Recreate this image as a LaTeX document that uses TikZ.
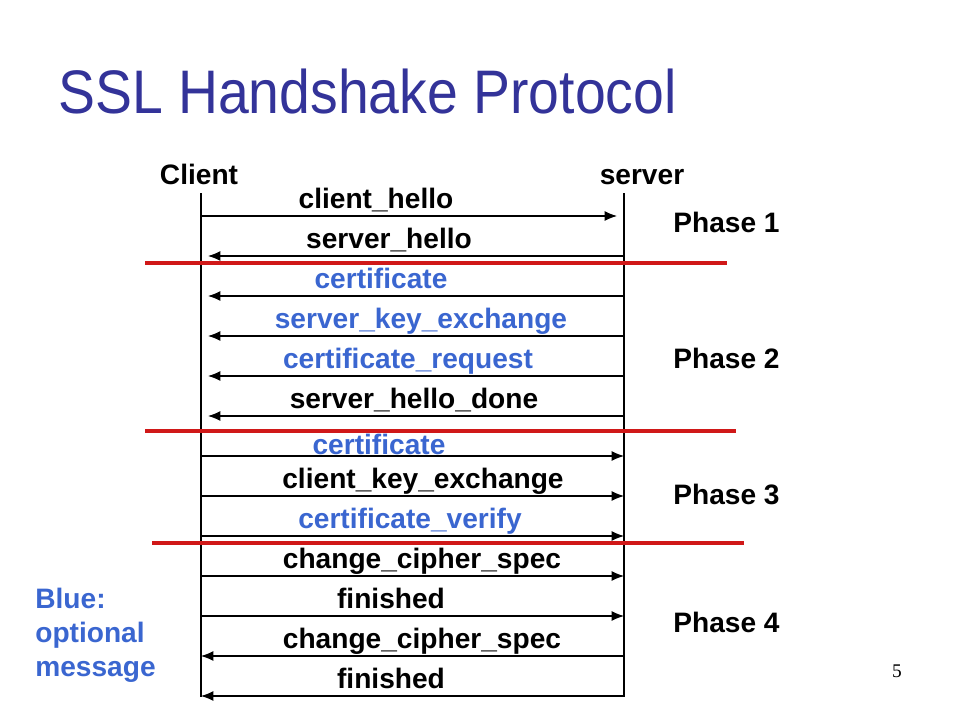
\documentclass[tikz,border=0pt]{standalone}
\usepackage{fontspec}
\setmainfont{Liberation Sans}
\newfontfamily\pagefont{Liberation Serif}
\usetikzlibrary{arrows.meta}
\definecolor{titleblue}{HTML}{333399}
\definecolor{optblue}{HTML}{3A66D0}
\definecolor{sepred}{HTML}{D01818}
\tikzset{
  msg/.style={line width=0.6pt, -{Latex[length=7pt,width=5.6pt]}},
  early/.style={msg, shorten >=4pt},
  life/.style={line width=0.6pt},
  sep/.style={sepred, line width=1.8pt},
  lbl/.style={font=\bfseries\fontsize{16}{19}\selectfont, anchor=base, inner sep=0pt},
  opt/.style={lbl, text=optblue},
  phase/.style={lbl, anchor=base west}
}
\begin{document}
\begin{tikzpicture}[x=0.02cm, y=-0.02cm]
        \useasboundingbox (0,0) rectangle (960,720);
        \node[titleblue, anchor=base west, inner sep=0pt, xscale=0.9,
              font=\fontsize{35}{40}\selectfont] (title) at (58,113) {SSL Handshake Protocol};
        \node[lbl] (client) at (199,184) {Client};
        \node[lbl] (server) at (642,184) {server};
        % lifelines
        \coordinate (ctop) at (201,193); \coordinate (cbot) at (201,697);
        \coordinate (stop) at (624,193); \coordinate (sbot) at (624,697);
        \draw[life] (ctop) -- (cbot);
        \draw[life] (stop) -- (sbot);
        \foreach \n/\y in {1/216,2/256,3/296,4/336,5/376,6/416,7/456,
                           8/496,9/536,10/576,11/616,12/656,13/696} {
          \coordinate (c\n) at (201,\y);
          \coordinate (s\n) at (624,\y);
        }
        % messages
        \draw[early] (c1) -- (s1);
        \foreach \n in {2,...,6} \draw[early] (s\n) -- (c\n);
        \foreach \n in {7,...,11} \draw[msg] (c\n) -- (s\n);
        \foreach \n in {12,13} \draw[msg] (s\n) -- (c\n);
        \node[lbl] (m1) at (376,208) {client\_hello};
        \node[lbl] (m2) at (389,248) {server\_hello};
        \node[opt] (m3) at (381,288) {certificate};
        \node[opt] (m4) at (421,328) {server\_key\_exchange};
        \node[opt] (m5) at (408,368) {certificate\_request};
        \node[lbl] (m6) at (414,408) {server\_hello\_done};
        \node[opt] (m7) at (379,454) {certificate};
        \node[lbl] (m8) at (423,488) {client\_key\_exchange};
        \node[opt] (m9) at (410,528) {certificate\_verify};
        \node[lbl] (m10) at (422,568) {change\_cipher\_spec};
        \node[lbl] (m11) at (391,608) {finished};
        \node[lbl] (m12) at (422,648) {change\_cipher\_spec};
        \node[lbl] (m13) at (391,688) {finished};
        % phase separators
        \draw[sep] (145,263) -- (727,263);
        \draw[sep] (145,431) -- (736,431);
        \draw[sep] (152,543) -- (744,543);
        \node[phase] (p1) at (673,232) {Phase 1};
        \node[phase] (p2) at (673,368) {Phase 2};
        \node[phase] (p3) at (673,504) {Phase 3};
        \node[phase] (p4) at (673,632) {Phase 4};
        \node[opt, anchor=north west, align=left, font=\bfseries\fontsize{16}{19.3}\selectfont]
          (legend) at (35,588) {Blue:\\optional\\message};
        \node[anchor=base, inner sep=0pt, font=\pagefont\fontsize{11}{13}\selectfont] (pg) at (897,677) {5};
      \end{tikzpicture}
\end{document}
